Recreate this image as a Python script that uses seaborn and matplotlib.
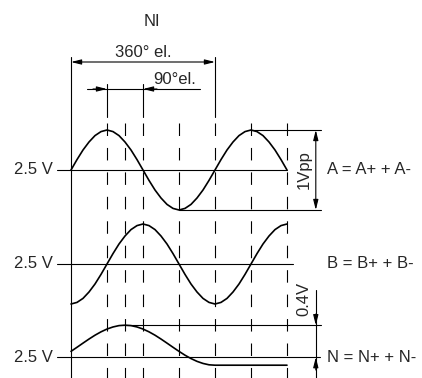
import numpy as np
import pandas as pd
import matplotlib
matplotlib.use('Agg')
import matplotlib.pyplot as plt
import seaborn as sns

# signal samples every 15 deg el. (volts around the 2.5 V level)
angle = np.arange(0, 541, 15)
sig_a = [0, .13, .25, .35, .43, .48, .5, .48, .43, .35, .25, .13, 0,
         -.13, -.25, -.35, -.43, -.48, -.5, -.48, -.43, -.35, -.25, -.13, 0,
         .13, .25, .35, .43, .48, .5, .48, .43, .35, .25, .13, 0]
sig_b = [-.5, -.48, -.43, -.35, -.25, -.13, 0, .13, .25, .35, .43, .48, .5,
         .48, .43, .35, .25, .13, 0, -.13, -.25, -.35, -.43, -.48, -.5,
         -.48, -.43, -.35, -.25, -.13, 0, .13, .25, .35, .43, .48, .5]
sig_n = [.073, .124, .176, .227, .275, .317, .352, .378, .395, .4, .395, .378, .352,
         .317, .275, .227, .176, .124, .073, .025, -.017, -.052, -.078, -.095, -.1,
         -.1, -.1, -.1, -.1, -.1, -.1, -.1, -.1, -.1, -.1, -.1, -.1]
names = ['A = A+ + A-', 'B = B+ + B-', 'N = N+ + N-']
ref_label = '2.5 V'
marks = [90, 135, 180, 270, 360, 450, 540]

# vertical placement of the three traces
offsets = [0, -1.175, -2.34]

sns.set_style('white')
plt.rcParams['font.family'] = ['Liberation Sans', 'DejaVu Sans']
plt.rcParams['lines.scale_dashes'] = False

fig = plt.figure(figsize=(4.22, 3.78), dpi=100)
ax = fig.add_axes([0, 0, 1, 1])
ax.set_xlim(-177.5, 877.5)
ax.set_ylim(-2.6, 2.125)
ax.axis('off')

df = pd.DataFrame({'angle': np.concatenate([angle] * 3),
                   'v': np.concatenate([np.array(sig_a) + offsets[0],
                                        np.array(sig_b) + offsets[1],
                                        np.array(sig_n) + offsets[2]]),
                   'sig': np.repeat(names, len(angle))})
sns.lineplot(data=df, x='angle', y='v', units='sig', estimator=None, sort=False,
             color='black', lw=1.2, ax=ax, legend=False)

thin = dict(color='black', lw=0.8)
fs = 12

# 2.5 V reference lines and labels
ends = [540, 555, 622]
for off, name, e in zip(offsets, names, ends):
    ax.plot([-35, e], [off, off], **thin)
    ax.text(-45, off, ref_label, ha='right', va='center', fontsize=fs)
    ax.text(640, off, name, ha='left', va='center', fontsize=fs)

# vertical grid of marks
ax.plot([0, 0], [1.41, -2.6], **thin)
for m in marks:
    ax.plot([m, m], [0.59, -2.6], dashes=(9, 8.6), **thin)
for m, top in [(90, 1.075), (180, 1.075), (360, 1.41)]:
    ax.plot([m, m], [top, 0.66], **thin)

def arrow(x0, y0, x1, y1, style='-|>'):
    ax.annotate('', xy=(x1, y1), xytext=(x0, y0),
                arrowprops=dict(arrowstyle=style + ',head_length=0.6,head_width=0.15',
                                color='black', lw=0.8, shrinkA=0, shrinkB=0))

# 360 deg dimension
arrow(0, 1.35, 360, 1.35, '<|-|>')
ax.text(180, 1.47, '360° el.', ha='center', va='center', fontsize=fs)
# 90 deg dimension
ax.plot([40, 322], [1.0125, 1.0125], **thin)
arrow(55, 1.0125, 90, 1.0125)
arrow(215, 1.0125, 180, 1.0125)
ax.text(260, 1.125, '90°el.', ha='center', va='center', fontsize=fs)

# 1 Vpp dimension
ax.plot([450, 625], [0.5, 0.5], **thin)
ax.plot([270, 625], [-0.5, -0.5], **thin)
arrow(612, 0.5, 612, -0.5, '<|-|>')
ax.text(583, 0, '1Vpp', rotation=90, ha='center', va='center', fontsize=fs)

# 0.4 V dimension
ax.plot([135, 625], [offsets[2] + 0.4, offsets[2] + 0.4], **thin)
ax.plot([612, 612], [-1.5, -2.6], **thin)
arrow(612, -1.8, 612, offsets[2] + 0.4)
arrow(612, -2.5, 612, offsets[2])
ax.text(583, -1.61, '0.4V', rotation=90, ha='center', va='center', fontsize=fs)

ax.text(202, 1.85, 'NI', ha='center', va='center', fontsize=fs)

fig.savefig('out.png', dpi=100, facecolor='white')
